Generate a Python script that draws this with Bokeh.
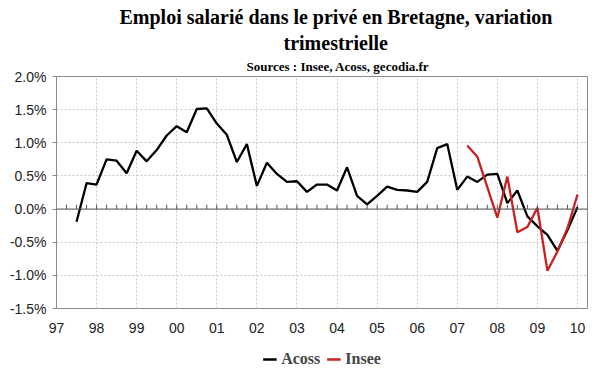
from bokeh.plotting import figure
from bokeh.layouts import column
from bokeh.models import (Range1d, FixedTicker, PrintfTickFormatter, Span, Title,
                          Legend, LegendItem)
from bokeh.embed import file_html
from bokeh.resources import INLINE

# ---- data (quarterly change, %) ----
acoss_quarters = (["1997T2", "1997T3", "1997T4"] +
                  [f"{y}T{q}" for y in range(1998, 2010) for q in (1, 2, 3, 4)])
acoss_values = [
    -0.19, 0.39, 0.37,
    0.75, 0.73, 0.54, 0.88,
    0.72, 0.89, 1.11, 1.25,
    1.16, 1.51, 1.52, 1.29,
    1.12, 0.71, 0.98, 0.35,
    0.70, 0.53, 0.41, 0.42,
    0.26, 0.37, 0.37, 0.28,
    0.63, 0.20, 0.07, 0.20,
    0.34, 0.29, 0.28, 0.26,
    0.41, 0.92, 0.98, 0.29,
    0.49, 0.41, 0.52, 0.53,
    0.09, 0.28, -0.11, -0.26,
    -0.39, -0.63, -0.32, 0.03,
]
insee_quarters = [f"{y}T{q}" for y in range(2007, 2010) for q in (1, 2, 3, 4)]
insee_values = [0.96, 0.79, 0.33, -0.13,
                0.49, -0.35, -0.27, 0.02,
                -0.93, -0.64, -0.29, 0.22]

year_ticks = list(range(1997, 2011))
year_labels = {y: f"{y % 100:02d}" for y in year_ticks}
y_ticks = [-1.5, -1.0, -0.5, 0.0, 0.5, 1.0, 1.5, 2.0]

title_line1 = "Emploi salarié dans le privé en Bretagne, variation"
title_line2 = "trimestrielle"
subtitle = "Sources : Insee, Acoss, gecodia.fr"
series_names = ["Acoss", "Insee"]
series_colors = ["black", "#cc1f1f"]


def qpos(label):
    y, q = label.split("T")
    return int(y) + int(q) / 4.0


acoss_x = [qpos(q) for q in acoss_quarters]
insee_x = [qpos(q) for q in insee_quarters]

p = figure(width=600, height=338, output_backend="svg", toolbar_location=None,
           x_range=Range1d(1997.0, 2010.25), y_range=Range1d(-1.5, 2.0),
           min_border_left=56, min_border_right=13, min_border_top=76,
           min_border_bottom=30)
p.background_fill_color = "white"
p.border_fill_color = "white"
p.outline_line_color = "#8c8c8c"
p.outline_line_width = 1

# axes
p.xaxis.ticker = FixedTicker(ticks=year_ticks)
p.xaxis.major_label_overrides = year_labels
p.xaxis.axis_line_color = None
p.xaxis.major_tick_line_color = None
p.xaxis.minor_tick_line_color = None
p.xaxis.major_label_standoff = 8
p.xaxis.major_label_text_font = "Liberation Sans"
p.xaxis.major_label_text_font_size = "14px"
p.xaxis.major_label_text_color = "#222222"

p.yaxis.ticker = FixedTicker(ticks=y_ticks)
p.yaxis.formatter = PrintfTickFormatter(format="%.1f%%")
p.yaxis.axis_line_color = "#8c8c8c"
p.yaxis.major_tick_line_color = "#8c8c8c"
p.yaxis.major_tick_out = 4
p.yaxis.major_tick_in = 0
p.yaxis.minor_tick_line_color = None
p.yaxis.major_label_standoff = 6
p.yaxis.major_label_text_font = "Liberation Sans"
p.yaxis.major_label_text_font_size = "14px"
p.yaxis.major_label_text_color = "#222222"

# grids
p.xgrid.ticker = FixedTicker(ticks=year_ticks[1:])
p.xgrid.grid_line_color = "#c8c8c8"
p.xgrid.grid_line_dash = "2 2"
p.ygrid.ticker = FixedTicker(ticks=y_ticks)
p.ygrid.grid_line_color = "#c8c8c8"
p.ygrid.grid_line_dash = "2 2"

# zero axis with quarter ticks
p.add_layout(Span(location=0, dimension="width", line_color="#555555", line_width=1))
qt = [1997 + i / 4.0 for i in range(1, 54)]
p.segment(x0=qt, x1=qt, y0=[0.0] * len(qt), y1=[0.065] * len(qt),
          line_color="#555555", line_width=1)

# series
p.line(acoss_x, acoss_values, line_color=series_colors[0], line_width=2.3)
p.line(insee_x, insee_values, line_color=series_colors[1], line_width=2.3)

# titles (added nearest-to-frame first)
for txt, size, standoff, off in [(subtitle, "13px", 6, 190),
                                 (title_line2, "20px", 0, 227),
                                 (title_line1, "20px", 3, 63)]:
    p.add_layout(Title(text=txt, align="left", offset=off, standoff=standoff,
                       text_font="Liberation Serif", text_font_style="bold",
                       text_font_size=size, text_color="black"), "above")

# legend strip (proxy lines fall outside its ranges; only the legend shows)
lg = figure(width=600, height=34, output_backend="svg", toolbar_location=None,
            x_range=Range1d(0, 1), y_range=Range1d(0, 1),
            min_border_left=26, min_border_right=0, min_border_top=8,
            min_border_bottom=0)
lg.axis.visible = False
lg.grid.visible = False
lg.outline_line_color = None
lg.background_fill_color = "white"
lg.border_fill_color = "white"
items = []
for name, col, xs, ys in zip(series_names, series_colors,
                             [acoss_x, insee_x], [acoss_values, insee_values]):
    r = lg.line(xs, ys, line_color=col, line_width=2.3)
    items.append(LegendItem(label=name, renderers=[r]))
legend = Legend(items=items, orientation="horizontal", location="center")
legend.label_text_font = "Liberation Serif"
legend.label_text_font_style = "bold"
legend.label_text_font_size = "16px"
legend.glyph_width = 14
legend.glyph_height = 16
legend.label_height = 16
legend.label_standoff = 5
legend.spacing = 6
legend.padding = 0
legend.margin = 0
legend.border_line_color = None
legend.background_fill_alpha = 0
lg.add_layout(legend, "center")

layout = column(p, lg, spacing=0)
open("out.html", "w").write(file_html(layout, INLINE))
